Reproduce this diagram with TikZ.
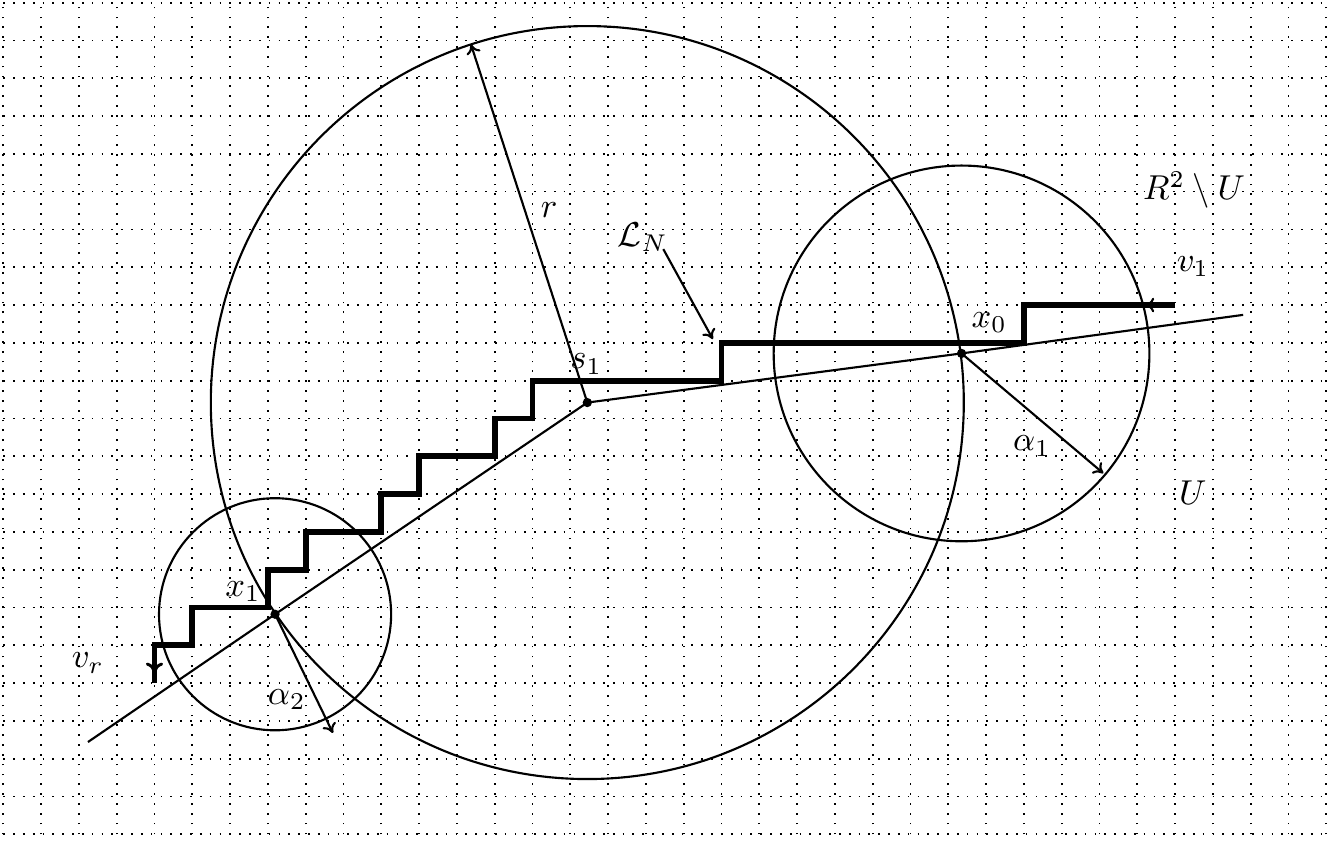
\documentclass[tikz,border=0pt]{standalone}
\usetikzlibrary{calc,arrows.meta}
\begin{document}
\begin{tikzpicture}[
  gridline/.style={line width=1.3pt, dash pattern=on 1.3pt off 6.1pt},
  thinline/.style={line width=1.6pt},
  tip/.style={-{To[length=7pt,width=11pt]}},
  stair/.style={line width=4.4pt},
  dot/.style={circle, fill=black, inner sep=0pt, minimum size=7pt},
  lbl/.style={inner sep=0pt, scale=2.6}
]
\useasboundingbox (-0.087,-0.177) rectangle (35.124,22.07);
% grid
\draw[gridline] (0,0) grid (35,22);
% main points
\coordinate (cs1) at (15.45,11.42);
\coordinate (cx0) at (25.35,12.72);
\coordinate (cx1) at (7.19,5.82);
% circles
\draw[thinline] (cs1) circle (9.96);
\draw[thinline] (cx0) circle (4.97);
\draw[thinline] (cx1) circle (3.07);
% polyline through the points
\coordinate (lstart) at (2.24,2.44);
\coordinate (lend) at (32.80,13.74);
\draw[thinline] (lstart) -- (cx1) -- (cs1) -- (cx0) -- (lend);
% staircase
\coordinate (v1end) at (31,14);
\coordinate (vrend) at (4,4);
\draw[stair] (v1end) -- (27,14) -- (27,13) -- (19,13) -- (19,12) -- (14,12) -- (14,11)
  -- (13,11) -- (13,10) -- (11,10) -- (11,9) -- (10,9) -- (10,8) -- (8,8) -- (8,7)
  -- (7,7) -- (7,6) -- (5,6) -- (5,5) -- (4,5) -- (vrend);
\coordinate (v1tip) at (30.2,14);
\coordinate (v1tail) at (30.9,14);
\draw[thinline,tip] (v1tail) -- (v1tip);
\coordinate (vrtip) at (4,4.26);
\coordinate (vrtail) at (4,4.8);
\draw[line width=2.2pt,-{To[length=8pt,width=13pt]}] (vrtail) -- (vrtip);
% arrows
\coordinate (rtip) at ($(cs1)+(108:9.96)$);
\draw[thinline,tip] (cs1) -- (rtip);
\coordinate (a1tip) at (29.10,9.55);
\draw[thinline,tip] (cx0) -- (a1tip);
\coordinate (a2tip) at (8.72,2.68);
\draw[thinline,tip] (cx1) -- (a2tip);
\coordinate (lntail) at (17.46,15.48);
\coordinate (lntip) at (18.77,13.10);
\draw[thinline,tip] (lntail) -- (lntip);
% dots
\node[dot] (s1) at (cs1) {};
\node[dot] (x0) at (cx0) {};
\node[dot] (x1) at (cx1) {};
% labels
\node[lbl] (lr) at (14.44,16.52) {$r$};
\node[lbl] (lLN) at (16.92,15.79) {$\mathcal{L}_N$};
\node[lbl] (ls1) at (15.42,12.44) {$s_1$};
\node[lbl] (lx0) at (26.08,13.54) {$x_0$};
\node[lbl] (la1) at (27.21,10.27) {$\alpha_1$};
\node[lbl] (lU) at (31.47,9.03) {$U$};
\node[lbl] (lRU) at (31.50,17.04) {$R^2\setminus U$};
\node[lbl] (lv1) at (31.47,15.01) {$v_1$};
\node[lbl] (lx1) at (6.34,6.41) {$x_1$};
\node[lbl] (lvr) at (2.24,4.53) {$v_r$};
\node[lbl] (la2) at (7.50,3.56) {$\alpha_2$};
\end{tikzpicture}
\end{document}
